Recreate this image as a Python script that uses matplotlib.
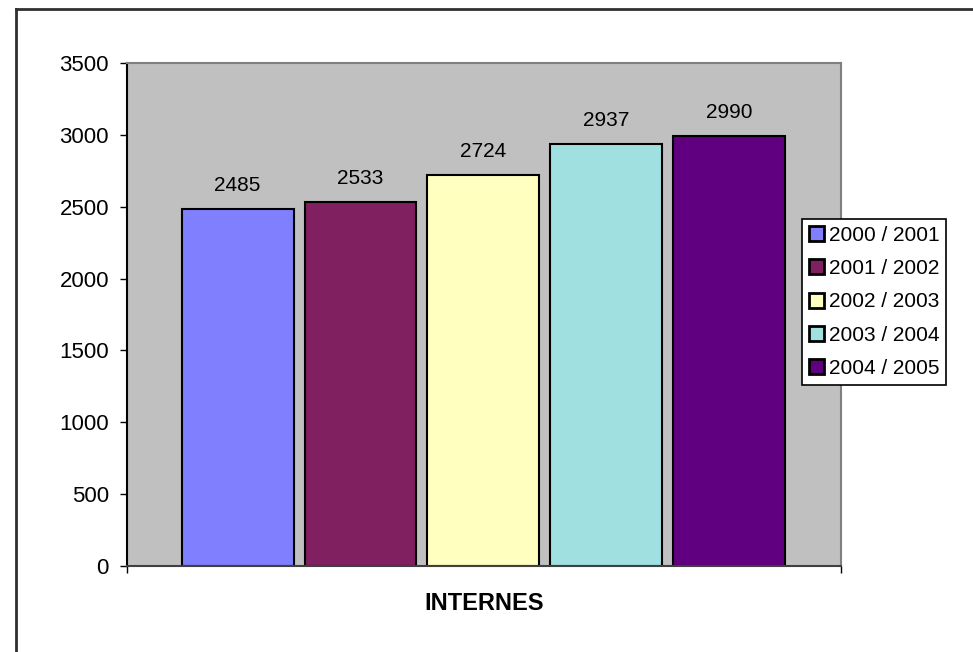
import matplotlib.pyplot as plt
from matplotlib.lines import Line2D

plt.rcParams["font.family"] = ["Liberation Sans", "DejaVu Sans"]

# data
seasons = ["2000 / 2001", "2001 / 2002", "2002 / 2003", "2003 / 2004", "2004 / 2005"]
values = [2485, 2533, 2724, 2937, 2990]
colors = ["#8080FF", "#802060", "#FFFFC0", "#A0E0E0", "#600080"]
category = "INTERNES"
y_ticks = [0, 500, 1000, 1500, 2000, 2500, 3000, 3500]

W, H = 973, 652
fig = plt.figure(figsize=(W / 100, H / 100), dpi=100)

# plot area in pixel coords
left, right, top, bottom = 127, 841, 63, 566
ax = fig.add_axes([left / W, 1 - bottom / H, (right - left) / W, (bottom - top) / H])
ax.set_facecolor("#C0C0C0")

x = list(range(len(values)))
bars = ax.bar(x, values, width=0.91, color=colors, edgecolor="black",
              linewidth=1.5, label=seasons, zorder=2)

for xi, v in zip(x, values):
    ax.annotate(str(v), (xi, v), xytext=(0, 10), textcoords="offset points",
                ha="center", va="bottom", fontsize=15)

ax.set_xlim(-0.9, len(values) - 1 + 0.91)
ax.set_ylim(0, 3500)
ax.set_yticks(y_ticks)
ax.tick_params(axis="y", direction="out", length=5, width=1, labelsize=16, pad=8)
ax.set_xticks(ax.get_xlim())
ax.set_xticklabels(["", ""])
ax.tick_params(axis="x", direction="out", length=5, width=1)
ax.set_xlabel(category, fontsize=17, fontweight="bold", labelpad=10.5)

ax.spines["left"].set_color("black")
ax.spines["bottom"].set_color("#404040")
ax.spines["top"].set_color("#808080")
ax.spines["right"].set_color("#808080")
for s in ax.spines.values():
    s.set_linewidth(1.5)

leg = fig.legend(bars, seasons, loc="upper left",
                 bbox_to_anchor=(802 / W, 1 - 219 / H), fontsize=15,
                 handlelength=0.72, handleheight=0.72, handletextpad=0.24,
                 labelspacing=0.69, borderpad=0.32, borderaxespad=0,
                 fancybox=False, edgecolor="black", framealpha=1)
leg.get_frame().set_linewidth(1.2)
for h in leg.legend_handles:
    h.set_linewidth(2)

# chart border (left and top edges visible)
fig.add_artist(Line2D([16 / W, 16 / W], [0, 1 - 9 / H], transform=fig.transFigure,
                      color="#303030", linewidth=2))
fig.add_artist(Line2D([16 / W, 1], [1 - 9 / H, 1 - 9 / H], transform=fig.transFigure,
                      color="#303030", linewidth=2))

fig.savefig("out.png", dpi=100)
